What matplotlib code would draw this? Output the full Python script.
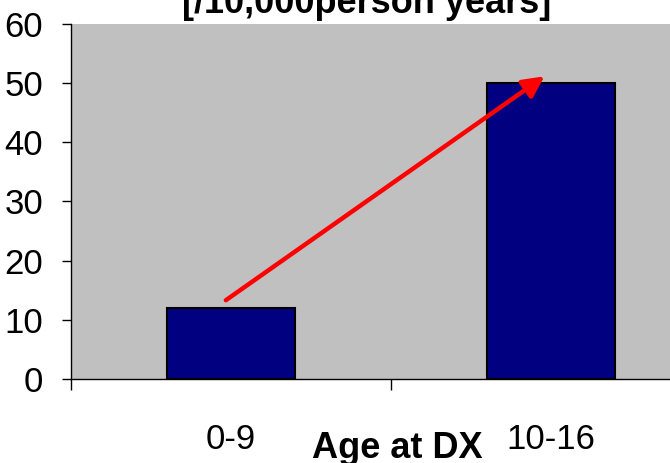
import matplotlib
matplotlib.use("Agg")
import matplotlib.pyplot as plt
from matplotlib import font_manager

categories = ["0-9", "10-16"]
rates = [12, 50]
y_ticks = [0, 10, 20, 30, 40, 50, 60]
title_text = "[/10,000person years]"
x_label = "Age at DX"
# arrow drawn from the first bar up to the second (data coords)
arrow_start = (-0.016, 13.3)
arrow_end = (0.98, 51.1)

names = {f.name for f in font_manager.fontManager.ttflist}
narrow = "Liberation Sans Narrow" if "Liberation Sans Narrow" in names else "Liberation Sans"
plt.rcParams['font.family'] = ['Liberation Sans', 'DejaVu Sans']

fig = plt.figure(figsize=(6.7, 4.63), dpi=100)
ax = fig.add_axes([0.106, 0.1814, 0.955, 0.7678])
ax.set_facecolor('#C0C0C0')

x = list(range(len(categories)))
ax.bar(x, rates, width=0.4, color='#000080', edgecolor='black', linewidth=1.5, zorder=2)

ax.annotate("", xy=arrow_end, xytext=arrow_start,
            arrowprops=dict(arrowstyle='-|>', color='#FF0000', lw=3.2,
                            mutation_scale=32, shrinkA=0, shrinkB=0),
            zorder=3)

ax.set_xlim(-0.5, 1.5)
ax.set_ylim(0, 60)
ax.set_yticks(y_ticks)
ax.set_yticklabels([str(v) for v in y_ticks], family=[narrow, 'DejaVu Sans'], fontsize=25)
ax.tick_params(axis='y', direction='out', length=6.5, width=1, pad=13.5)

ax.set_xticks(x)
ax.set_xticklabels(categories, family=[narrow, 'DejaVu Sans'], fontsize=25)
ax.set_xticks([-0.5, 0.5, 1.5], minor=True)
ax.tick_params(axis='x', which='major', length=0, pad=32)
ax.tick_params(axis='x', which='minor', direction='out', length=8, width=1)

for side in ['top', 'right']:
    ax.spines[side].set_visible(False)
ax.spines['left'].set_linewidth(1)
ax.spines['bottom'].set_linewidth(1)

fig.text(366.5 / 670, 1 - 13 / 463, title_text, ha='center', va='baseline',
         fontsize=26, fontweight='bold')
fig.text(397 / 670, 5 / 463, x_label, ha='center', va='baseline',
         fontsize=26, fontweight='bold')

fig.savefig("out.png", dpi=100)
